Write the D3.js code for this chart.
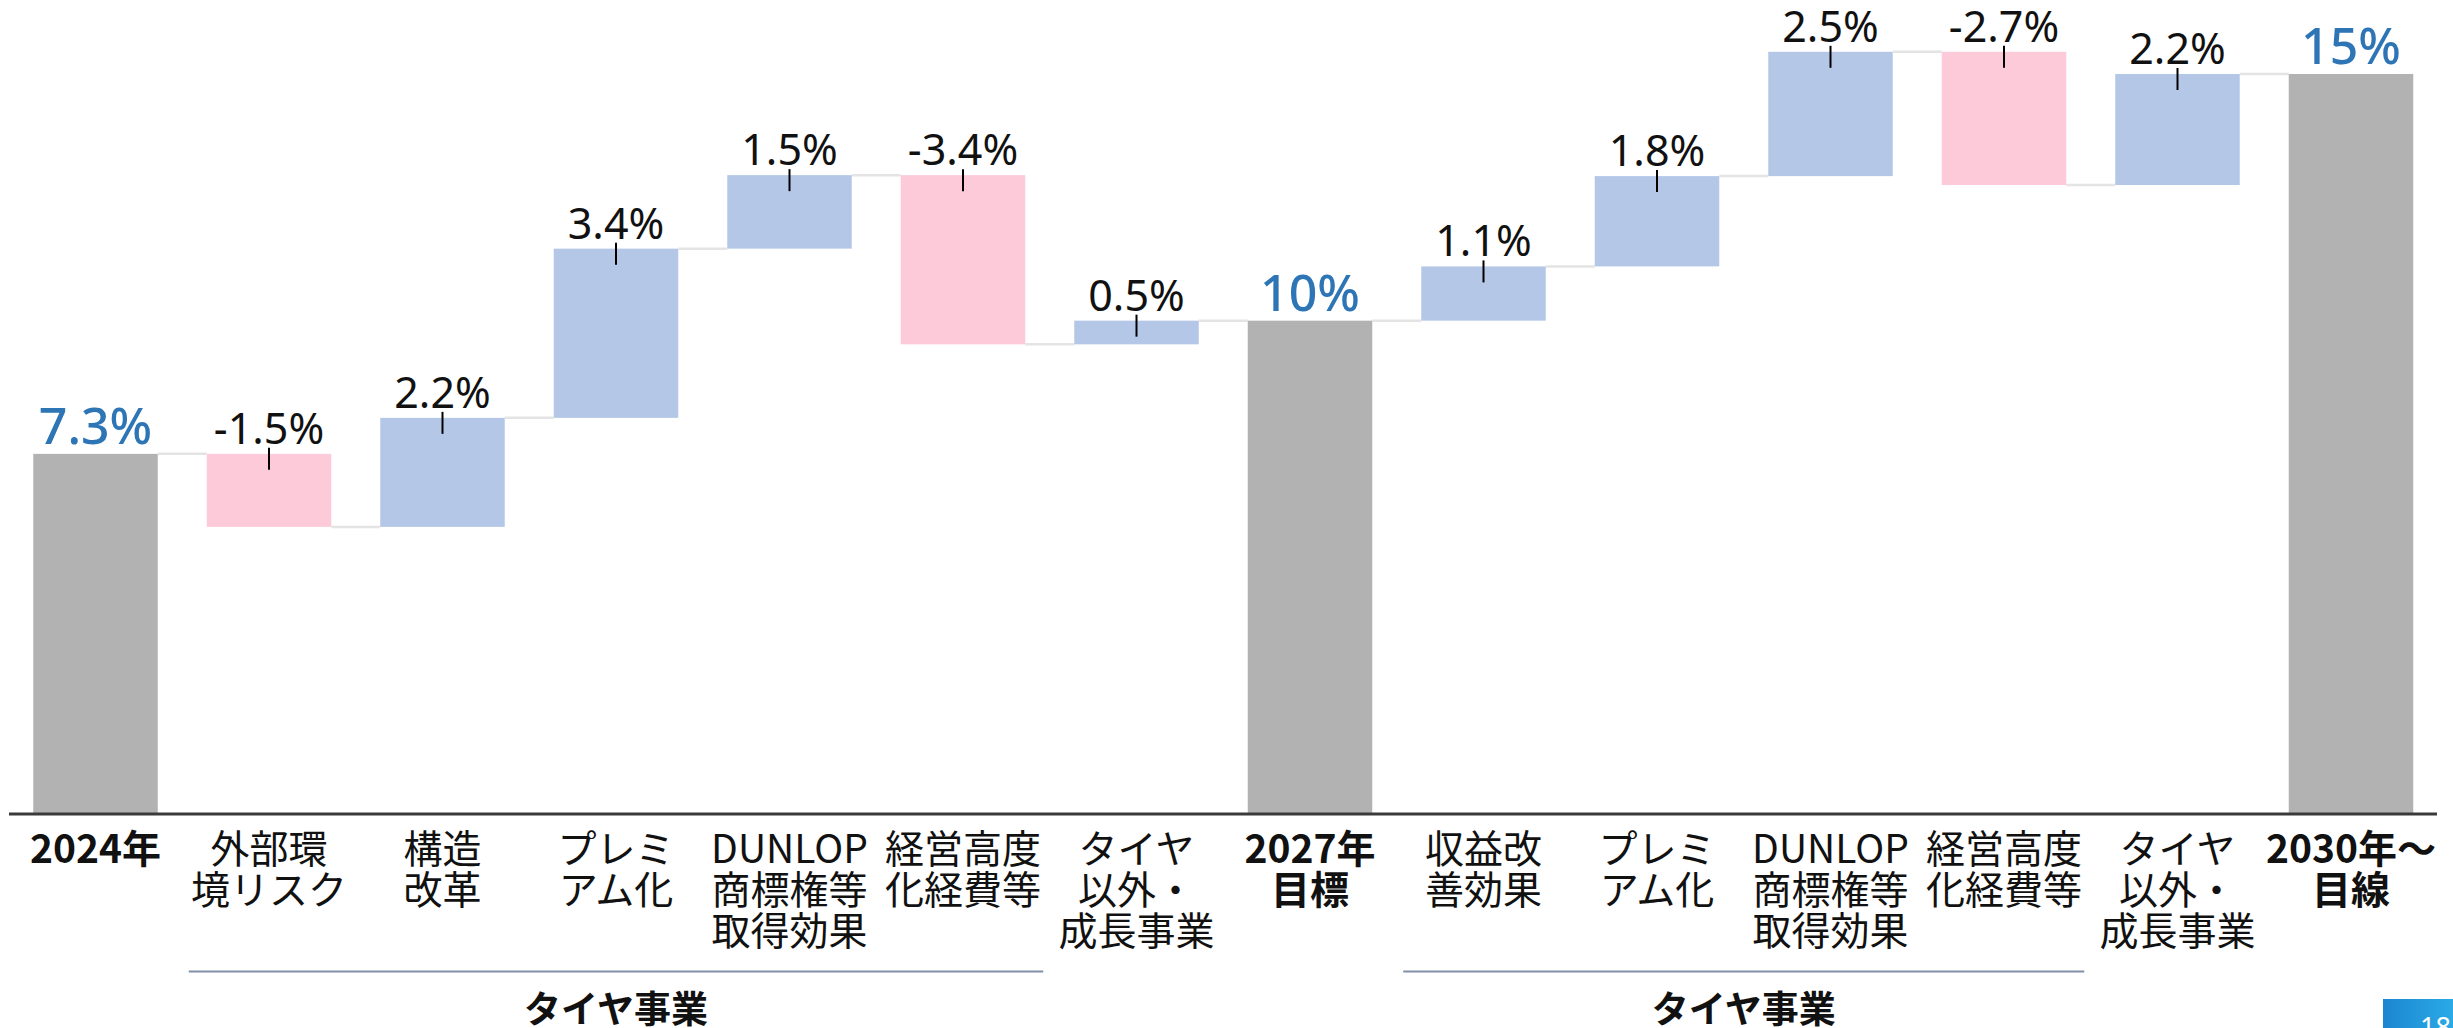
<!DOCTYPE html>
<html><head><meta charset="utf-8">
<script src="https://cdn.jsdelivr.net/npm/d3@7"></script>
<style>
html,body{margin:0;padding:0;background:#fff;overflow:hidden;}
svg{display:block;}
</style></head>
<body><svg id="chart" width="2453" height="1028"></svg>
<script>
// ---- data ----
const categoryLines = [
  ["2024年"],
  ["外部環","境リスク"],
  ["構造","改革"],
  ["プレミ","アム化"],
  ["DUNLOP","商標権等","取得効果"],
  ["経営高度","化経費等"],
  ["タイヤ","以外・","成長事業"],
  ["2027年","目標"],
  ["収益改","善効果"],
  ["プレミ","アム化"],
  ["DUNLOP","商標権等","取得効果"],
  ["経営高度","化経費等"],
  ["タイヤ","以外・","成長事業"],
  ["2030年～","目線"]
];
const kinds = ["total","delta","delta","delta","delta","delta","delta","total","delta","delta","delta","delta","delta","total"];
const values = [7.3, -1.48, 2.21, 3.43, 1.49, -3.43, 0.48, 10, 1.1, 1.83, 2.52, -2.70, 2.25, 15];
const valueLabels = ["7.3%","-1.5%","2.2%","3.4%","1.5%","-3.4%","0.5%","10%","1.1%","1.8%","2.5%","-2.7%","2.2%","15%"];
const groupLabels = ["タイヤ事業","タイヤ事業"];
const groupFrom = [1, 8];
const groupTo = [5, 11];
const pageNumber = "18";

// ---- build waterfall ----
let run = 0;
const bars = values.map((v, i) => {
  let start, end;
  if (kinds[i] === "total") { start = 0; end = v; run = v; }
  else { start = run; end = run + v; run = end; }
  return {i, kind: kinds[i], v, start, end, label: valueLabels[i], lines: categoryLines[i]};
});

const svg = d3.select("#chart");
const x = d3.scaleBand().domain(d3.range(values.length)).range([8.75, 2437.75])
  .paddingInner(0.2824).paddingOuter(0.1412);
const y = d3.scaleLinear().domain([0, 15]).range([814, 74]);
const bw = x.bandwidth();

const colors = {total: "#b2b2b2", up: "#b4c7e7", down: "#fdcada"};

// connectors
svg.append("g").selectAll("line").data(bars.slice(0, -1)).join("line")
  .attr("x1", d => x(d.i) + bw).attr("x2", d => x(d.i + 1))
  .attr("y1", d => y(d.end)).attr("y2", d => y(d.end))
  .attr("stroke", "#e4e4e4").attr("stroke-width", 2.5);

// bars
svg.append("g").selectAll("rect").data(bars).join("rect")
  .attr("x", d => x(d.i)).attr("width", bw)
  .attr("y", d => y(Math.max(d.start, d.end)))
  .attr("height", d => Math.abs(y(d.start) - y(d.end)))
  .attr("fill", d => d.kind === "total" ? colors.total : (d.v >= 0 ? colors.up : colors.down));

// axis baseline
svg.append("line").attr("x1", 9).attr("x2", 2437).attr("y1", y(0)).attr("y2", y(0))
  .attr("stroke", "#3a3a3a").attr("stroke-width", 3);

// value ticks on delta bars
const deltas = bars.filter(d => d.kind === "delta");
svg.append("g").selectAll("line").data(deltas).join("line")
  .attr("x1", d => x(d.i) + bw / 2).attr("x2", d => x(d.i) + bw / 2)
  .attr("y1", d => y(Math.max(d.start, d.end)) - 6)
  .attr("y2", d => y(Math.max(d.start, d.end)) + 16)
  .attr("stroke", "#000").attr("stroke-width", 2);

// value labels
svg.append("g").selectAll("text").data(bars).join("text")
  .attr("x", d => x(d.i) + bw / 2)
  .attr("y", d => y(Math.max(d.start, d.end)) - 10)
  .attr("text-anchor", "middle")
  .attr("font-family", "'Noto Sans', sans-serif")
  .attr("font-size", d => d.kind === "total" ? 50 : 43)
  .attr("font-weight", d => d.kind === "total" ? 500 : 400)
  .attr("fill", d => d.kind === "total" ? "#2e75b6" : "#111")
  .text(d => d.label);

// category labels
const cat = svg.append("g").selectAll("text").data(bars).join("text")
  .attr("text-anchor", "middle")
  .attr("font-family", "'Noto Sans CJK JP', sans-serif")
  .attr("font-size", 39)
  .attr("font-weight", d => d.kind === "total" ? 700 : 400)
  .attr("fill", "#111");
cat.selectAll("tspan").data(d => d.lines.map((t, k) => ({t, k, i: d.i}))).join("tspan")
  .attr("x", d => x(d.i) + bw / 2)
  .attr("y", d => 863 + d.k * 41)
  .text(d => d.t);

// group brackets
const groups = groupLabels.map((g, k) => ({label: g, x1: x(groupFrom[k]) - 18, x2: x(groupTo[k]) + bw + 18}));
svg.append("g").selectAll("line").data(groups).join("line")
  .attr("x1", d => d.x1).attr("x2", d => d.x2).attr("y1", 971.5).attr("y2", 971.5)
  .attr("stroke", "#8090a8").attr("stroke-width", 2);
svg.append("g").selectAll("text").data(groups).join("text")
  .attr("x", d => (d.x1 + d.x2) / 2).attr("y", 1023)
  .attr("text-anchor", "middle")
  .attr("font-family", "'Noto Sans CJK JP', sans-serif")
  .attr("font-size", 37).attr("font-weight", 700).attr("fill", "#111")
  .text(d => d.label);

// page number box
const defs = svg.append("defs");
const grad = defs.append("linearGradient").attr("id", "pg").attr("x1", "0").attr("x2", "1").attr("y1", "0").attr("y2", "0");
grad.append("stop").attr("offset", "0").attr("stop-color", "#1c86d0");
grad.append("stop").attr("offset", "1").attr("stop-color", "#2aaae6");
svg.append("rect").attr("x", 2383).attr("y", 999).attr("width", 70).attr("height", 29).attr("fill", "url(#pg)");
svg.append("text").attr("x", 2420).attr("y", 1037)
  .attr("font-family", "'Noto Sans', sans-serif").attr("font-size", 27).attr("fill", "#fff")
  .text(pageNumber);
</script>
</body></html>
